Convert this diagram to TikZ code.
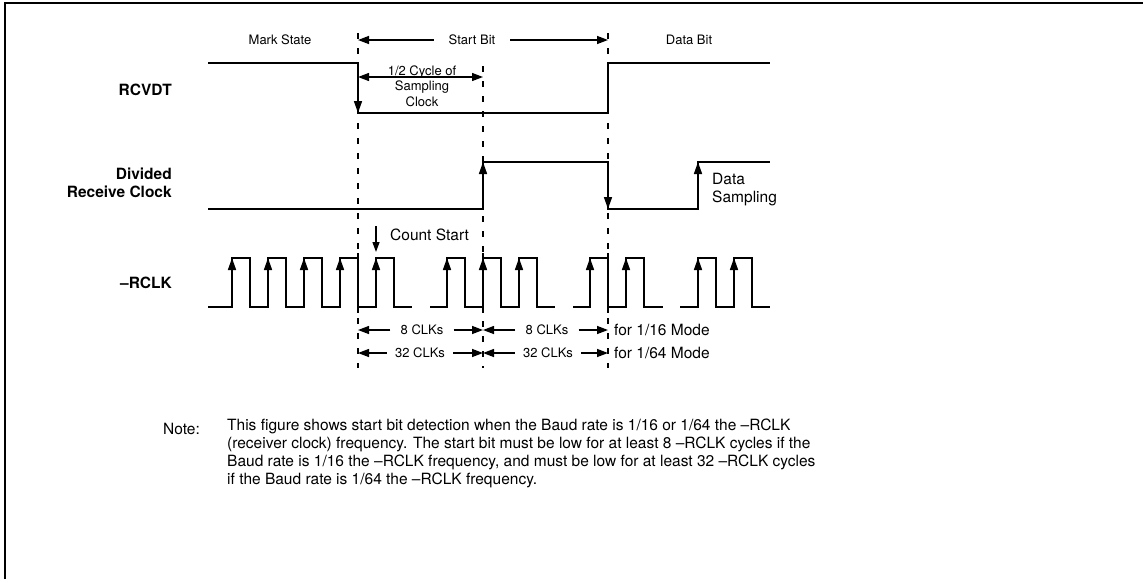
\documentclass[tikz,border=0pt]{standalone}
\usepackage{fontspec}
\setmainfont{TeX Gyre Heros}
\usetikzlibrary{arrows.meta, positioning}

\begin{document}
\begin{tikzpicture}[
    x=1pt, y=-1pt,
    sig/.style   = {line width=1.6pt, line join=miter},
    rise/.style  = {line width=1.6pt, -{Triangle[length=12pt,width=8pt]}},
    guide/.style = {line width=1.3pt, dash pattern=on 6pt off 9pt},
    dim/.style   = {line width=1.4pt, -{Triangle[length=11pt,width=8pt]}},
    both/.style  = {line width=1.3pt, {Triangle[length=11pt,width=8pt]}-{Triangle[length=11pt,width=8pt]}},
    lab/.style   = {font=\fontsize{15.5}{18.5}\selectfont\bfseries, align=right, anchor=east, inner sep=0pt},
    small/.style = {font=\fontsize{13}{15.5}\selectfont, inner sep=0pt},
    txt/.style   = {font=\fontsize{15.5}{18}\selectfont, inner sep=0pt},
  ]
  \useasboundingbox (0,0) rectangle (1143,579);

  %% Frame (cut at right and bottom)
  \draw[line width=2pt] (5,579) -- (5,3) -- (1143,3);

  %% Marker lines
  \foreach \x/\y/\n in {358/33/m1, 483/66/m2, 608/33/m3} {
    \coordinate (\n) at (\x,0);
    \draw[guide] (\x,\y) -- (\x,368);
    \draw[line width=1.3pt] (\x,253) -- (\x,313);
  }

  %% Bit labels
  \node[small] (mark) at (280,40) {Mark State};
  \node[small, inner xsep=15pt] (startbit) at (472,40) {Start Bit};
  \node[small] (databit) at (689,40) {Data Bit};
  \draw[dim] (startbit.west) -- (m1 |- startbit);
  \draw[dim] (startbit.east) -- (m3 |- startbit);

  %% RCVDT
  \node[lab] (rcvdt) at (172,90) {RCVDT};
  \draw[sig] (208,63) -- (358,63) -- (358,113) -- (608,113) -- (608,63) -- (770,63);
  \draw[rise] (358,63) -- (358,113);
  \draw[both] (358,77) -- (483,77);
  \node[small, align=center] (halfcyc) at (422,86) {1/2 Cycle of\\Sampling\\Clock};

  %% Divided receive clock
  \node[lab] (divclk) at (172,183) {Divided\\Receive Clock};
  \draw[sig] (208,209) -- (483,209) -- (483,162) -- (608,162) -- (608,209)
             -- (698,209) -- (698,162) -- (770,162);
  \draw[rise] (483,209) -- (483,162);
  \draw[rise] (608,162) -- (608,209);
  \draw[rise] (698,209) -- (698,162);
  \node[txt, anchor=west, align=left] (datasamp) at (712,190) {Data\\Sampling};

  %% -RCLK
  \node[lab] (rclk) at (172,283) {–RCLK};
  \draw[sig] (208,307) \foreach \r in {232,268,304,340,376}
    { -- (\r,307) -- (\r,258) -- (\r+18,258) -- (\r+18,307) } -- (412,307);
  \draw[sig] (430,307) \foreach \r in {447,483,519}
    { -- (\r,307) -- (\r,258) -- (\r+18,258) -- (\r+18,307) } -- (555,307);
  \draw[sig] (573,307) \foreach \r in {590,626}
    { -- (\r,307) -- (\r,258) -- (\r+18,258) -- (\r+18,307) } -- (663,307);
  \draw[sig] (680,307) \foreach \r in {698,734}
    { -- (\r,307) -- (\r,258) -- (\r+18,258) -- (\r+18,307) } -- (770,307);
  \foreach \r in {232,268,304,340,376,447,483,519,590,626,698,734}
    \draw[rise] (\r,307) -- (\r,258);

  %% Count start
  \node[txt, anchor=west] (cstart) at (390,235) {Count Start};
  \coordinate (cs) at (376,226);
  \draw[line width=1.3pt, -{Triangle[length=10pt,width=7pt]}] (cs) -- ++(0,26);

  %% Clock counts
  \node[small, inner xsep=10pt] (c8a) at (422,330) {8 CLKs};
  \node[small, inner xsep=10pt] (c8b) at (547,330) {8 CLKs};
  \node[txt, anchor=west] (mode16) at (614,330) {for 1/16 Mode};
  \node[small, inner xsep=8pt] (c32a) at (420,353) {32 CLKs};
  \node[small, inner xsep=8pt] (c32b) at (548,353) {32 CLKs};
  \node[txt, anchor=west] (mode64) at (614,353) {for 1/64 Mode};
  \draw[dim] (c8a.west) -- (m1 |- c8a);
  \draw[dim] (c8a.east) -- (m2 |- c8a);
  \draw[dim] (c8b.west) -- (m2 |- c8b);
  \draw[dim] (c8b.east) -- (m3 |- c8b);
  \draw[dim] (c32a.west) -- (m1 |- c32a);
  \draw[dim] (c32a.east) -- (m2 |- c32a);
  \draw[dim] (c32b.west) -- (m2 |- c32b);
  \draw[dim] (c32b.east) -- (m3 |- c32b);

  %% Note
  \node[txt, anchor=west] (notehd) at (163,429) {Note:};
  \node[txt, anchor=north west, align=left] (notebody) at (227,419)
    {This figure shows start bit detection when the Baud rate is 1/16 or 1/64 the –RCLK\\
     (receiver clock) frequency. The start bit must be low for at least 8 –RCLK cycles if the\\
     Baud rate is 1/16 the –RCLK frequency, and must be low for at least 32 –RCLK cycles\\
     if the Baud rate is 1/64 the –RCLK frequency.};

\end{tikzpicture}
\end{document}
